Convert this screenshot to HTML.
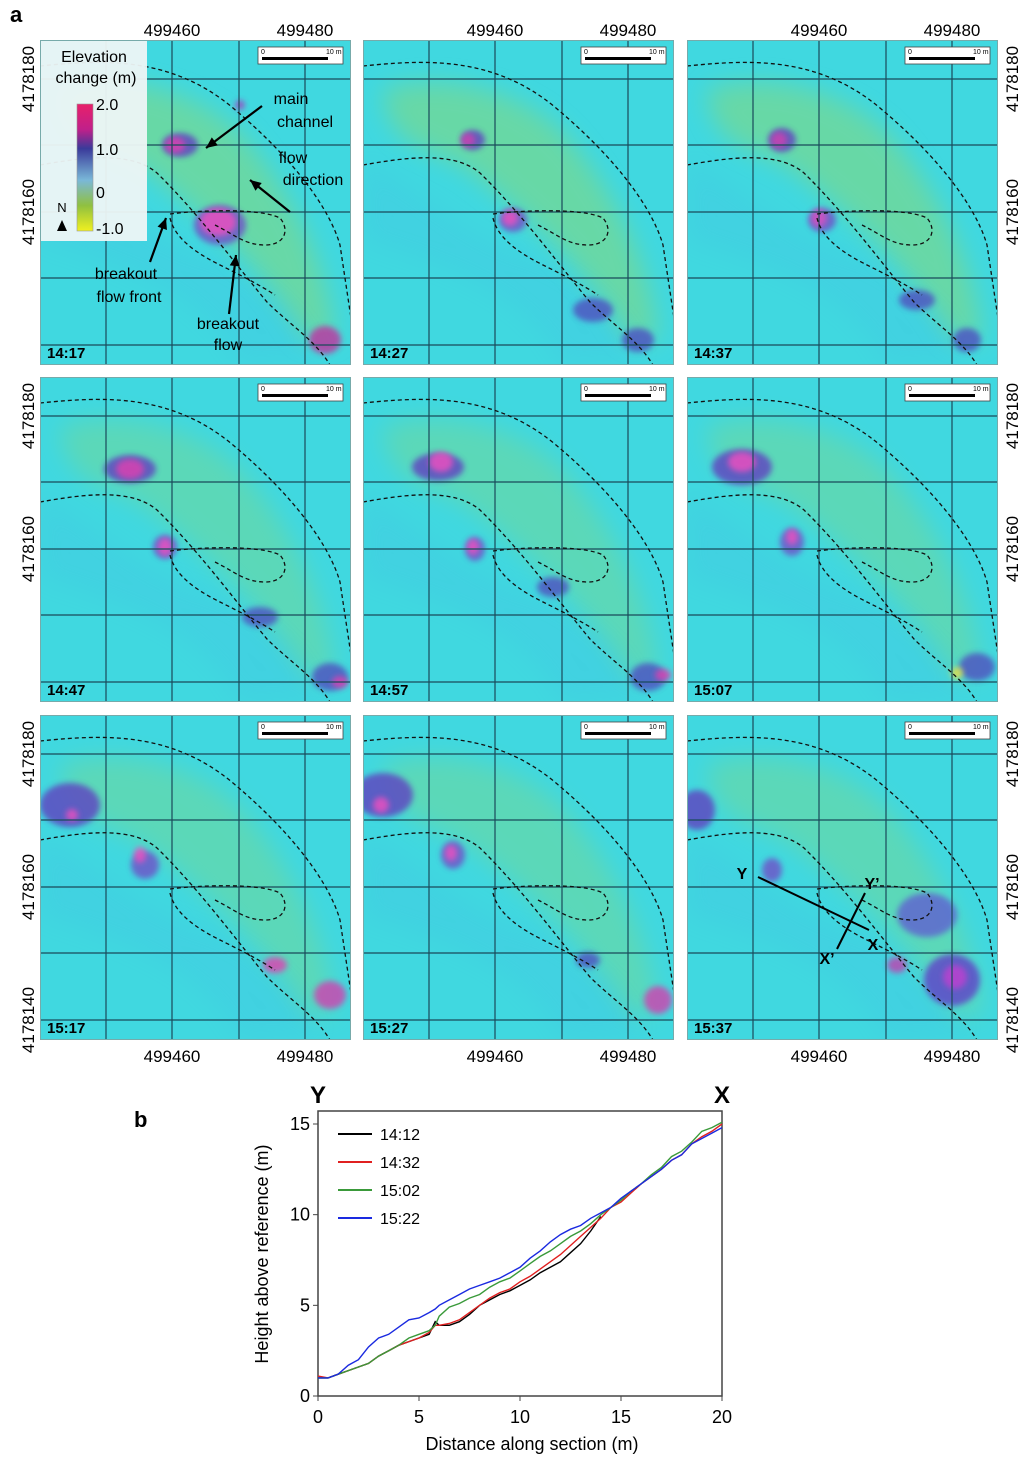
<!DOCTYPE html>
<html><head><meta charset="utf-8">
<style>
body{margin:0;background:#fff;font-family:"Liberation Sans",sans-serif;}
#root{position:relative;width:1024px;height:1462px;overflow:hidden;}
text{font-family:"Liberation Sans",sans-serif;}
</style></head>
<body>
<div id="root">
<svg id="fig" width="1024" height="1462" viewBox="0 0 1024 1462">
<defs>
<filter id="blur6" x="-50%" y="-50%" width="200%" height="200%"><feGaussianBlur stdDeviation="6"/></filter>
<filter id="blur3" x="-50%" y="-50%" width="200%" height="200%"><feGaussianBlur stdDeviation="3"/></filter>
<filter id="blur12" x="-50%" y="-50%" width="200%" height="200%"><feGaussianBlur stdDeviation="12"/></filter>
<linearGradient id="cbar" x1="0" y1="0" x2="0" y2="1">
<stop offset="0" stop-color="#e8206a"/><stop offset="0.2" stop-color="#c0208a"/><stop offset="0.35" stop-color="#3a3a9a"/><stop offset="0.6" stop-color="#7ab8d8"/><stop offset="0.8" stop-color="#90c040"/><stop offset="1" stop-color="#f0f020"/>
</linearGradient>
</defs>
<text x="10" y="22" font-size="22" font-weight="bold">a</text>
<g id="panels"></g>
<g id="chart"></g>
</svg>
</div>
<script>
// ---- Chart b data ----
const xs = [0,0.5,1,1.5,2,2.5,3,3.5,4,4.5,5,5.5,5.8,6,6.5,7,7.5,8,8.5,9,9.5,10,10.5,11,11.5,12,12.5,13,13.5,14,14.5,15,15.5,16,16.5,17,17.5,18,18.5,19,19.5,20];
const s1412 = [1.0,1.0,1.2,1.4,1.6,1.8,2.2,2.5,2.8,3.0,3.2,3.4,4.1,3.9,3.9,4.1,4.5,5.0,5.3,5.6,5.8,6.1,6.4,6.8,7.1,7.4,7.9,8.4,9.1,9.9,null,null,null,null,null,null,null,null,null,null,null,null];
const s1432 = [1.1,1.0,1.2,1.4,1.6,1.8,2.2,2.5,2.8,3.0,3.2,3.5,3.9,3.9,4.0,4.2,4.6,5.0,5.4,5.7,5.9,6.3,6.6,7.0,7.4,7.8,8.3,8.8,9.3,9.8,10.4,10.7,11.2,11.7,12.1,12.5,13.0,13.3,13.9,14.3,14.6,15.0];
const s1502 = [1.0,1.0,1.2,1.4,1.6,1.8,2.2,2.5,2.8,3.2,3.4,3.6,3.9,4.4,4.9,5.1,5.4,5.6,6.0,6.3,6.5,6.9,7.3,7.7,8.0,8.4,8.8,9.1,9.5,10.0,10.4,10.8,11.3,11.7,12.2,12.6,13.2,13.5,14.0,14.6,14.8,15.1];
const s1522 = [1.0,1.0,1.2,1.7,2.0,2.7,3.2,3.4,3.8,4.2,4.3,4.6,4.8,5.0,5.3,5.6,5.9,6.1,6.3,6.5,6.8,7.1,7.6,8.0,8.5,8.9,9.2,9.4,9.8,10.1,10.4,10.9,11.3,11.7,12.1,12.5,13.0,13.3,13.9,14.2,14.5,14.8];
const seriesNames = ["14:12","14:32","15:02","15:22"];
const seriesColors = ["#000000","#e02020","#3a9a3a","#1a2ae0"];
const xTicks = [0,5,10,15,20];
const yTicks = [0,5,10,15];
const panelTimes = ["14:17","14:27","14:37","14:47","14:57","15:07","15:17","15:27","15:37"];

const NS="http://www.w3.org/2000/svg";
function el(tag,attrs,parent){const e=document.createElementNS(NS,tag);for(const k in attrs)e.setAttribute(k,attrs[k]);if(parent)parent.appendChild(e);return e;}

// ---- Panels ----
const P = document.getElementById('panels');
const colX=[40,363,687], rowY=[40,377,715], PW=311, PH=325;
const gx=[66,132,199,265], gy=[39,105,172,238,305];
const blobs=[
 [[140,105,18,12,"#6040c0"],[135,105,10,8,"#e040b0"],[180,185,26,20,"#7050c8"],[178,182,18,14,"#f050c0"],[285,300,16,14,"#c030a0"],[200,65,5,5,"#a040c0"]],
 [[110,100,12,10,"#6040c0"],[105,100,7,7,"#d040b0"],[150,180,14,12,"#7050c8"],[147,178,8,8,"#f050c0"],[275,300,16,12,"#5050c0"],[230,270,20,12,"#5050c0"]],
 [[95,100,14,12,"#6040c0"],[92,100,8,8,"#d040b0"],[135,180,14,12,"#7050c8"],[132,178,8,9,"#e050c0"],[280,300,14,12,"#5050c0"],[230,260,18,10,"#5050c0"]],
 [[90,92,26,14,"#6040c0"],[90,92,14,10,"#e040b0"],[125,170,12,12,"#7050c8"],[125,170,7,9,"#f050c0"],[290,300,18,14,"#5050c0"],[220,240,18,10,"#5050c0"],[300,305,8,6,"#e040b0"]],
 [[75,90,26,14,"#6040c0"],[78,85,12,10,"#f050c0"],[112,172,10,12,"#7050c8"],[110,170,6,8,"#f050c0"],[285,300,18,14,"#5050c0"],[190,210,16,10,"#5050c0"],[300,298,8,6,"#e040b0"]],
 [[55,90,30,18,"#6040c0"],[55,85,14,10,"#f050c0"],[105,165,12,14,"#7050c8"],[105,160,6,8,"#f050c0"],[290,290,18,14,"#5050c0"],[270,296,6,6,"#f0e040"]],
 [[30,90,30,22,"#6040c0"],[32,100,6,6,"#f050c0"],[105,150,14,14,"#7050c8"],[100,140,6,8,"#f050c0"],[235,250,12,8,"#e040b0"],[290,280,16,14,"#d040b0"]],
 [[20,80,30,22,"#6040c0"],[18,90,8,8,"#f050c0"],[90,140,12,14,"#7050c8"],[88,138,6,8,"#f050c0"],[225,245,12,8,"#5050c0"],[295,285,14,14,"#d040b0"]],
 [[10,95,18,20,"#6040c0"],[85,155,10,12,"#7050c8"],[210,250,10,8,"#c040b0"],[265,265,28,26,"#6040c8"],[268,262,12,12,"#c040d0"],[240,200,30,22,"#6060d0"]]
];
const outer="M0,26 C60,20 130,15 193,68 S290,170 300,205 L311,278";
const inner="M0,125 C40,118 90,110 117,133 C160,175 200,230 227,262 C250,285 275,300 290,325";
const loop="M130,174 C160,170 220,168 240,178 C250,190 245,205 225,205 C205,205 195,195 175,185";
const lower="M130,178 C135,200 160,215 180,225 C200,235 220,245 235,255";
for(let i=0;i<9;i++){
  const c=i%3,r=Math.floor(i/3);
  const g=el('g',{transform:`translate(${colX[c]},${rowY[r]})`},P);
  
  
  const cp=el('clipPath',{id:'cp'+i},g);el('rect',{x:0,y:0,width:PW,height:PH},cp);
  const cg=el('g',{'clip-path':`url(#cp${i})`},g);
  el('rect',{x:0,y:0,width:PW,height:PH,fill:"#40d8e0"},cg);
  const gOp = i<3?0.55:0.38;
  el('path',{d:"M20,50 C80,30 170,50 215,110 C255,160 290,230 295,300 L265,300 C225,230 165,175 105,130 C65,105 25,110 20,50Z",fill:"#88d878",opacity:gOp,filter:"url(#blur12)"},cg);
  el('path',{d:"M0,120 C60,150 100,200 180,220 C220,240 260,270 280,320 L200,325 C170,260 100,230 0,200Z",fill:"#4a9ee8",opacity:0.1,filter:"url(#blur12)"},cg);
  for(const b of blobs[i]){
    el('ellipse',{cx:b[0],cy:b[1],rx:b[2],ry:b[3],fill:b[4],opacity:0.8,filter:"url(#blur3)"},cg);
  }
  for(const x of gx) el('line',{x1:x,y1:0,x2:x,y2:PH,stroke:"#1a4a5a","stroke-width":1.2},cg);
  for(const y of gy) el('line',{x1:0,y1:y,x2:PW,y2:y,stroke:"#1a4a5a","stroke-width":1.2},cg);
  for(const d of [outer,inner,loop,lower]) el('path',{d:d,fill:"none",stroke:"#111","stroke-width":1.3,"stroke-dasharray":"4,3"},cg);
  el('rect',{x:0.5,y:0.5,width:PW-1,height:PH-1,fill:"none",stroke:"#7aa","stroke-width":1},g);
  const sb=el('g',{},g);
  
  
  el('rect',{x:218,y:7,width:85,height:17,fill:"#fff",stroke:"#444","stroke-width":0.8},sb);
  el('rect',{x:222,y:17,width:66,height:3,fill:"#000"},sb);
  const t0=el('text',{x:221,y:14,'font-size':7},sb);t0.textContent="0";
  const t1=el('text',{x:286,y:14,'font-size':7},sb);t1.textContent="10 m";
  const tt=el('text',{x:7,y:PH-7,'font-size':15,'font-weight':'bold'},g);
  
  
  tt.textContent=panelTimes[i];
}
function lab(x,y,txt,rot,name){
  const t=el('text',{x:x,y:y,'font-size':17,'text-anchor':'middle'},P);
  if(rot) t.setAttribute('transform',`rotate(-90 ${x} ${y})`);
  
  
  t.textContent=txt;
}
for(const c of [0,1,2]){lab(colX[c]+132,36,"499460",0,'x-coord-label');lab(colX[c]+265,36,"499480",0,'x-coord-label');
  lab(colX[c]+132,1062,"499460",0,'x-coord-label');lab(colX[c]+265,1062,"499480",0,'x-coord-label');}
for(const r of [0,1,2]){lab(34,rowY[r]+39,"4178180",1,'y-coord-label');lab(34,rowY[r]+172,"4178160",1,'y-coord-label');
  lab(1018,rowY[r]+39,"4178180",1,'y-coord-label');lab(1018,rowY[r]+172,"4178160",1,'y-coord-label');}
lab(34,rowY[2]+305,"4178140",1,'y-coord-label');lab(1018,rowY[2]+305,"4178140",1,'y-coord-label');

const lg=el('g',{},P);


el('rect',{x:41,y:41,width:106,height:200,fill:"#eef6f6",opacity:0.95},lg);
[["Elevation",94,62],["change (m)",96,83]].forEach(a=>{const t=el('text',{x:a[1],y:a[2],'font-size':16,'text-anchor':'middle'},lg);t.textContent=a[0];});
el('rect',{x:77,y:104,width:16,height:127,fill:"url(#cbar)",stroke:"#999","stroke-width":0.6},lg);
[["2.0",110],["1.0",155],["0",198],["-1.0",234]].forEach(a=>{const t=el('text',{x:96,y:a[1],'font-size':16},lg);t.textContent=a[0];});
{const t=el('text',{x:62,y:212,'font-size':13,'text-anchor':'middle'},lg);t.textContent="N";}
el('path',{d:"M57,231 L62,220 L67,231Z",fill:"#000"},lg);
function ann(txt,x,y,name){const t=el('text',{x:x,y:y,'font-size':16,'text-anchor':'middle'},P);
 t.textContent=txt;}
ann("main",291,104,'annotation');ann("channel",305,127,'annotation');
ann("flow",293,163,'annotation');ann("direction",313,185,'annotation');
ann("breakout",126,279,'annotation');ann("flow front",129,302,'annotation');
ann("breakout",228,329,'annotation');ann("flow",228,350,'annotation');
function arrow(x1,y1,x2,y2){el('line',{x1:x1,y1:y1,x2:x2,y2:y2,stroke:"#000","stroke-width":2.2},P);
 const a=Math.atan2(y2-y1,x2-x1),L=11,W=5;
 const p=[[x2,y2],[x2-L*Math.cos(a)+W*Math.sin(a),y2-L*Math.sin(a)-W*Math.cos(a)],[x2-L*Math.cos(a)-W*Math.sin(a),y2-L*Math.sin(a)+W*Math.cos(a)]];
 el('path',{d:`M${p[0]}L${p[1]}L${p[2]}Z`,fill:"#000"},P);}
arrow(262,106,206,148);arrow(290,212,250,180);arrow(150,262,166,218);arrow(229,314,236,255);
{const ox=687,oy=714;
 el('line',{x1:ox+71,y1:oy+163,x2:ox+182,y2:oy+216,stroke:"#000","stroke-width":2},P);
 el('line',{x1:ox+178,y1:oy+179,x2:ox+150,y2:oy+235,stroke:"#000","stroke-width":2},P);
 [["Y",55,165],["Y’",185,175],["X",186,236],["X’",140,250]].forEach(a=>{const t=el('text',{x:ox+a[1],y:oy+a[2],'font-size':16,'font-weight':'bold','text-anchor':'middle'},P);
 t.textContent=a[0];});}

// ---- Chart b ----
const C=document.getElementById('chart');
const X0=318,X1=722,Y0=1396,Y15=1124;
const sx=v=>X0+(X1-X0)*v/20, sy=v=>Y0-(Y0-Y15)*v/15;
el('rect',{x:X0,y:1111,width:X1-X0,height:Y0-1111,fill:"none",stroke:"#444","stroke-width":1.5},C);
{const t=el('text',{x:134,y:1127,'font-size':22,'font-weight':'bold'},C);t.textContent="b";}
[["Y",318],["X",722]].forEach(a=>{const t=el('text',{x:a[1],y:1103,'font-size':24,'font-weight':'bold','text-anchor':'middle'},C);t.textContent=a[0];});
for(const v of xTicks){el('line',{x1:sx(v),y1:Y0,x2:sx(v),y2:Y0+5,stroke:"#444"},C);
 const t=el('text',{x:sx(v),y:Y0+27,'font-size':18,'text-anchor':'middle'},C);t.textContent=v;}
for(const v of yTicks){el('line',{x1:X0-5,y1:sy(v),x2:X0,y2:sy(v),stroke:"#444"},C);
 const t=el('text',{x:X0-8,y:sy(v)+6,'font-size':18,'text-anchor':'end'},C);t.textContent=v;}
{const t=el('text',{x:532,y:1450,'font-size':18,'text-anchor':'middle'},C);t.textContent="Distance along section (m)";}
{const t=el('text',{x:268,y:1254,'font-size':18,'text-anchor':'middle',transform:'rotate(-90 268 1254)'},C);t.textContent="Height above reference (m)";}
const allS=[s1412,s1432,s1502,s1522];
allS.forEach((s,k)=>{
 let d="";let pen=false;
 s.forEach((v,j)=>{if(v===null){pen=false;return;}d+=(pen?"L":"M")+sx(xs[j]).toFixed(1)+","+sy(v).toFixed(1);pen=true;});
 const p=el('path',{d:d,fill:"none",stroke:seriesColors[k],"stroke-width":1.4},C);
 
 
 const ly=1134+k*28;
 const lgE=el('g',{},C);
 
 
 el('line',{x1:338,y1:ly,x2:372,y2:ly,stroke:seriesColors[k],"stroke-width":2},lgE);
 const t=el('text',{x:380,y:ly+6,'font-size':16},lgE);t.textContent=seriesNames[k];
});
</script>
</body></html>
